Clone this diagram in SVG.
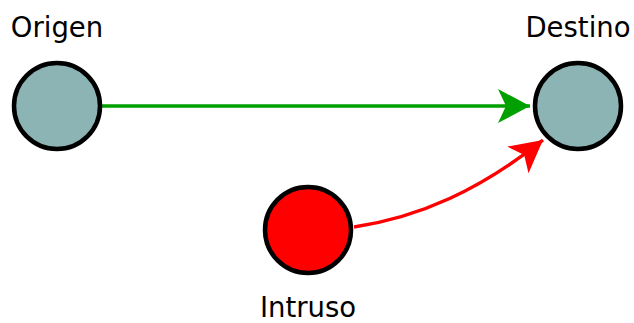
<svg xmlns="http://www.w3.org/2000/svg" width="634" height="323" viewBox="0 0 634 323">
<style>
.lbl{font-family:"DejaVu Sans",sans-serif;font-size:27.5px;fill:#000;text-anchor:middle}
.node{stroke:#000;stroke-width:4.5}
</style>
<defs>
<marker id="ag" markerUnits="userSpaceOnUse" viewBox="0 0 34 36" refX="32" refY="18" markerWidth="34" markerHeight="36" orient="auto">
<path d="M0,1 L32,18 L0,35 L8,18 Z" fill="#00a000"/>
</marker>
<marker id="ar" markerUnits="userSpaceOnUse" viewBox="0 0 34 36" refX="32" refY="18" markerWidth="34" markerHeight="36" orient="auto">
<path d="M0,1 L32,18 L0,35 L8,18 Z" fill="#ff0000"/>
</marker>
</defs>
<rect width="634" height="323" fill="#fff"/>
<g id="connectors" fill="none" stroke-width="3.5">
<path d="M102,106 L530,106" stroke="#00a000" marker-end="url(#ag)"/>
<path d="M354,227 C420,217 480,190 543,140" stroke="#ff0000" marker-end="url(#ar)"/>
</g>
<g id="origen">
<circle class="node" cx="57" cy="106" r="43" fill="#8cb4b4"/>
<text class="lbl" x="57" y="37">Origen</text>
</g>
<g id="destino">
<circle class="node" cx="578" cy="106" r="43" fill="#8cb4b4"/>
<text class="lbl" x="578" y="37">Destino</text>
</g>
<g id="intruso">
<circle class="node" cx="308" cy="230" r="43" fill="#ff0000"/>
<text class="lbl" x="308" y="317">Intruso</text>
</g>
</svg>
